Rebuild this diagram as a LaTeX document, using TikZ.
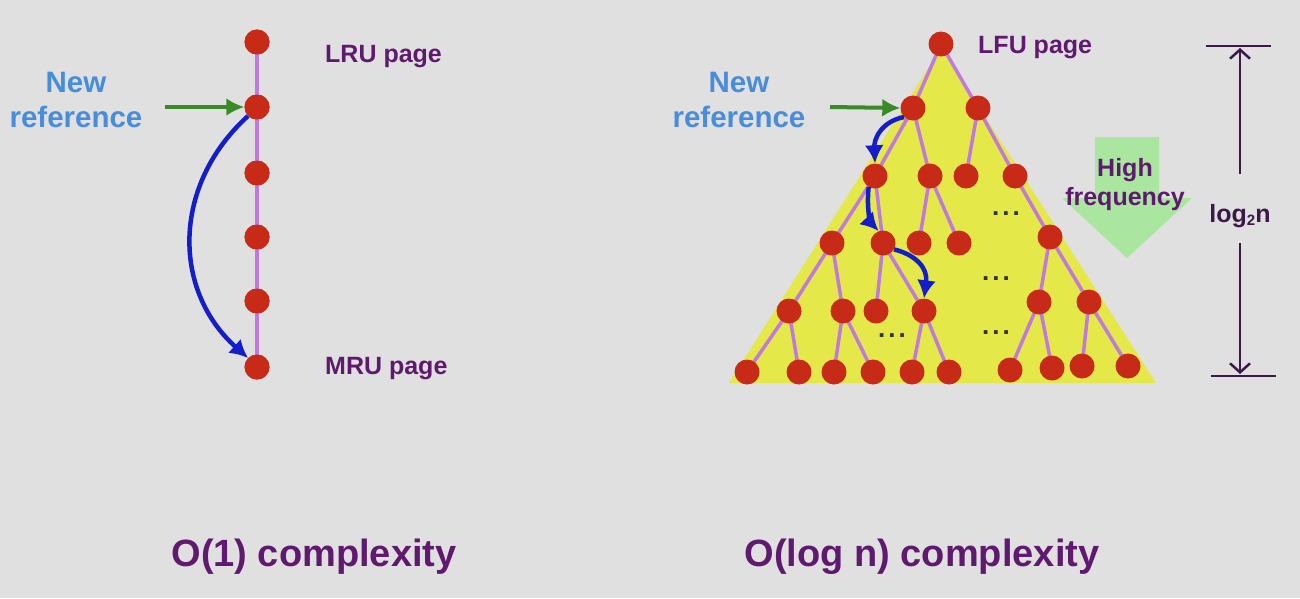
\documentclass[tikz,border=0pt]{standalone}
\usepackage{fontspec}
\setmainfont{Liberation Sans}
\usetikzlibrary{arrows.meta}
\definecolor{bgc}{RGB}{224,224,224}
\definecolor{nodered}{RGB}{200,42,24}
\definecolor{edgepurple}{RGB}{192,122,222}
\definecolor{triyellow}{RGB}{228,232,72}
\definecolor{reftext}{RGB}{72,140,220}
\definecolor{darkpurple}{RGB}{95,25,110}
\definecolor{dimpurple}{RGB}{60,25,72}
\definecolor{refgreen}{RGB}{58,138,40}
\definecolor{movblue}{RGB}{20,30,200}
\definecolor{freqgreen}{RGB}{170,230,160}
\begin{document}
\begin{tikzpicture}[x=1pt,y=-1pt,
  pg/.style={circle,fill=nodered,inner sep=0pt,minimum size=25pt},
  tedge/.style={draw=edgepurple,line width=3.5pt},
  lbl/.style={font=\fontsize{25}{28}\selectfont\bfseries,text=darkpurple,inner sep=0pt},
  reflbl/.style={font=\fontsize{29.5}{35}\selectfont\bfseries,text=reftext,align=center,inner sep=0pt},
  titlelbl/.style={font=\fontsize{38}{42}\selectfont\bfseries,text=darkpurple,inner sep=0pt},
  dotslbl/.style={font=\fontsize{26}{26}\selectfont\bfseries,text=black!80,inner sep=0pt},
  greenarr/.style={draw=refgreen,line width=4pt,-{Latex[length=18pt,width=18pt]}},
  bluearr/.style={draw=movblue,line width=4.5pt,-{Latex[length=18pt,width=19pt]}},
  dimarr/.style={draw=dimpurple,line width=2.5pt,-{Straight Barb[length=9pt,width=20pt]}},
  dimline/.style={draw=dimpurple,line width=2.5pt}]
\fill[bgc] (0,0) rectangle (1300,598);
\useasboundingbox (0,0) rectangle (1300,598);

% ---------- left: LRU list ----------
\node[pg] (c1) at (257,42) {};
\node[pg] (c2) at (257,107) {};
\node[pg] (c3) at (257,173) {};
\node[pg] (c4) at (257,237) {};
\node[pg] (c5) at (257,301) {};
\node[pg] (c6) at (257,367) {};
\foreach \a/\b in {c1/c2,c2/c3,c3/c4,c4/c5,c5/c6}
  \draw[tedge,shorten <=-2pt,shorten >=-2pt] (\a) -- (\b);
\foreach \n in {c1,c2,c3,c4,c5,c6} \node[pg] at (\n) {};

\node[lbl,anchor=west] (lru) at (325,57) {LRU page};
\node[lbl,anchor=west] (mru) at (325,369) {MRU page};
\node[reflbl] (newref1) at (76,100) {New\\reference};
\coordinate (g1) at (165,107);
\draw[greenarr] (g1) -- (c2.west);
\draw[bluearr] (c2.225) .. controls (172,185) and (172,290) .. (c6.135);
\node[titlelbl] (t1) at (314,557) {O(1) complexity};

% ---------- right: LFU heap ----------
\coordinate (apex) at (941,48);
\coordinate (bl) at (729,383);
\coordinate (br) at (1156,383);
\fill[triyellow] (apex) -- (br) -- (bl) -- cycle;

% high frequency arrow
\fill[freqgreen] (1095,137) -- (1159,137) -- (1159,198) -- (1192,198) -- (1127,258) -- (1062,198) -- (1095,198) -- cycle;
\node[lbl,align=center,font=\fontsize{25}{29}\selectfont\bfseries] (hf) at (1125,185) {High\\frequency};

\coordinate (r) at (941,44);
\coordinate (a1) at (913,108);  \coordinate (a2) at (978,108);
\coordinate (b1) at (875,176);  \coordinate (b2) at (930,176);
\coordinate (b3) at (966,176);  \coordinate (b4) at (1015,176);
\coordinate (d1) at (832,243);  \coordinate (d2) at (883,243);
\coordinate (d3) at (919,243);  \coordinate (d4) at (959,243);
\coordinate (d5) at (1050,237);
\coordinate (e1) at (789,311);  \coordinate (e2) at (843,311);
\coordinate (e3) at (876,311);  \coordinate (e4) at (924,311);
\coordinate (e5) at (1039,302); \coordinate (e6) at (1089,302);
\coordinate (f1) at (747,372);  \coordinate (f2) at (799,372);
\coordinate (f3) at (834,372);  \coordinate (f4) at (873,372);
\coordinate (f5) at (912,372);  \coordinate (f6) at (949,372);
\coordinate (f7) at (1010,370); \coordinate (f8) at (1052,368);
\coordinate (f9) at (1082,366); \coordinate (f10) at (1128,366);

\foreach \a/\b in {r/a1,r/a2,a1/b1,a1/b2,a2/b3,a2/b4,b1/d1,b1/d2,b2/d3,b2/d4,b4/d5,
  d1/e1,d1/e2,d2/e3,d2/e4,d5/e5,d5/e6,e1/f1,e1/f2,e2/f3,e2/f4,e4/f5,e4/f6,e5/f7,e5/f8,e6/f9,e6/f10}
  \draw[tedge] (\a) -- (\b);

\foreach \n in {r,a1,a2,b1,b2,b3,b4,d1,d2,d3,d4,d5,e1,e2,e3,e4,e5,e6,f1,f2,f3,f4,f5,f6,f7,f8,f9,f10}
  \node[pg] (n\n) at (\n) {};

\node[dotslbl] (dots1) at (1006,214) {.\hspace{3pt}.\hspace{3pt}.};
\node[dotslbl] (dots2) at (996,279) {.\hspace{3pt}.\hspace{3pt}.};
\node[dotslbl] (dots3) at (892,336) {.\hspace{3pt}.\hspace{3pt}.};
\node[dotslbl] (dots4) at (996,333) {.\hspace{3pt}.\hspace{3pt}.};

\node[lbl,anchor=west] (lfu) at (978,48) {LFU page};
\node[reflbl] (newref2) at (739,100) {New\\reference};
\coordinate (g2) at (830,107);
\draw[greenarr] (g2) -- (na1.west);

\draw[bluearr] (na1.225) .. controls (880,122) and (874,140) .. (nb1.north);
\draw[bluearr] (nb1.240) .. controls (866,212) and (872,224) .. (nd2.110);
\draw[bluearr] (nd2.-30) .. controls (916,255) and (928,268) .. (ne4.north);

\node[titlelbl] (t2) at (922,557) {O(log n) complexity};

% ---------- dimension log2 n ----------
\coordinate (dt1) at (1206,46);  \coordinate (dt2) at (1271,46);
\coordinate (db1) at (1211,376); \coordinate (db2) at (1276,376);
\draw[dimline] (dt1) -- (dt2);
\draw[dimline] (db1) -- (db2);
\node[font=\fontsize{25}{28}\selectfont\bfseries,text=dimpurple,inner sep=0pt] (lg) at (1240,216) {log{\fontsize{15}{15}\selectfont\raisebox{-3pt}{2}}n};
\coordinate (dtop) at (1240,48);
\coordinate (dbot) at (1240,374);
\coordinate (lgt) at (1240,174);
\coordinate (lgb) at (1240,243);
\draw[dimarr] (lgt) -- (dtop);
\draw[dimarr] (lgb) -- (dbot);
\end{tikzpicture}
\end{document}
